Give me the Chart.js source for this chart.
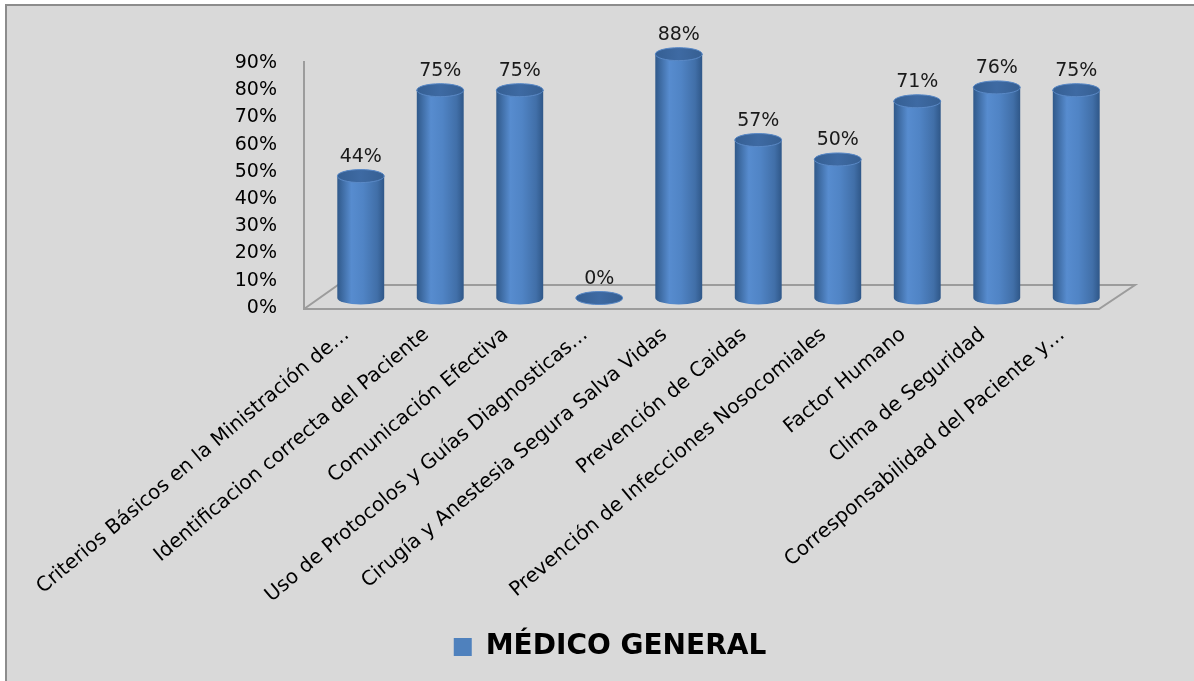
<!DOCTYPE html>
<html>
<head>
<meta charset="utf-8">
<script src="https://cdn.jsdelivr.net/npm/chart.js@4.4.0/dist/chart.umd.min.js"></script>
<style>
  html, body { margin: 0; padding: 0; background: #fff; overflow: hidden; width: 1194px; height: 681px; }
  #frame {
    position: absolute; left: 5px; top: 4px; width: 1220px; height: 700px;
    background: #d9d9d9; border-top: 2px solid #8c8c8c; border-left: 2px solid #8c8c8c;
  }
  #wrap { position: absolute; left: 0; top: 0; width: 1194px; height: 681px; }
</style>
</head>
<body>
<div id="frame"></div>
<div id="wrap"><canvas id="barChart"></canvas></div>
<script>
// datos
var categorias = [
  "Criterios Básicos en la Ministración de…",
  "Identificacion correcta del Paciente",
  "Comunicación Efectiva",
  "Uso de Protocolos y Guías Diagnosticas…",
  "Cirugía y Anestesia Segura Salva Vidas",
  "Prevención de Caidas",
  "Prevención de Infecciones Nosocomiales",
  "Factor Humano",
  "Clima de Seguridad",
  "Corresponsabilidad del Paciente y…"
];
var medicoGeneral = [44, 75, 75, 0, 88, 57, 50, 71, 76, 75];
var serieNombre = "MÉDICO GENERAL";
var ticksY = [0, 10, 20, 30, 40, 50, 60, 70, 80, 90];

var fuente = "'DejaVu Sans', sans-serif";

// piso y pared 3D
var piso3d = {
  id: "piso3d",
  beforeDatasetsDraw: function (chart) {
    var ctx = chart.ctx;
    var a = chart.chartArea;
    var y0 = chart.scales.y.getPixelForValue(0);
    var yTop = chart.scales.y.getPixelForValue(ticksY[ticksY.length - 1]);
    var dx = 17, dy = 11.5;
    ctx.save();
    ctx.strokeStyle = "#9c9c9c";
    ctx.lineWidth = 2;
    ctx.beginPath();
    ctx.moveTo(a.left - dx, yTop - 2);
    ctx.lineTo(a.left - dx, y0 + 1);
    ctx.lineTo(a.right - dx, y0 + 1);
    ctx.lineTo(a.right + dx + 2, y0 - 2 * dy);
    ctx.lineTo(a.left + dx, y0 - 2 * dy);
    ctx.lineTo(a.left - dx, y0 + 1);
    ctx.stroke();
    ctx.restore();
  }
};

// cilindros
var cilindros = {
  id: "cilindros",
  beforeDatasetDraw: function () {
    return false;
  },
  afterDatasetsDraw: function (chart) {
    var ctx = chart.ctx;
    var meta = chart.getDatasetMeta(0);
    ctx.save();
    meta.data.forEach(function (bar, i) {
      var p = bar.getProps(["x", "y", "base", "width"], true);
      var w = p.width, rx = w / 2, ry = 6.5;
      var l = p.x - rx, r = p.x + rx;
      var g = ctx.createLinearGradient(l, 0, r, 0);
      g.addColorStop(0, "#30598a");
      g.addColorStop(0.3, "#578ccf");
      g.addColorStop(0.55, "#5084c5");
      g.addColorStop(0.85, "#416fa8");
      g.addColorStop(1, "#2f5788");
      ctx.beginPath();
      ctx.moveTo(l, p.y);
      ctx.lineTo(l, p.base);
      ctx.ellipse(p.x, p.base, rx, ry, 0, Math.PI, 0, true);
      ctx.lineTo(r, p.y);
      ctx.ellipse(p.x, p.y, rx, ry, 0, 0, Math.PI, true);
      ctx.closePath();
      ctx.fillStyle = g;
      ctx.fill();
      // tapa
      var gt = ctx.createLinearGradient(l, 0, r, 0);
      gt.addColorStop(0, "#355f93");
      gt.addColorStop(0.5, "#3e6aa3");
      gt.addColorStop(1, "#365f92");
      ctx.beginPath();
      ctx.ellipse(p.x, p.y, rx, ry, 0, 0, Math.PI * 2);
      ctx.fillStyle = gt;
      ctx.fill();
      ctx.strokeStyle = "#5a89c6";
      ctx.lineWidth = 1;
      ctx.stroke();
      // etiqueta
      ctx.fillStyle = "#1a1a1a";
      ctx.font = "19px " + fuente;
      ctx.textAlign = "center";
      ctx.textBaseline = "middle";
      ctx.fillText(medicoGeneral[i] + "%", p.x, p.y - 19);
    });
    ctx.restore();
  }
};

document.addEventListener("DOMContentLoaded", function () {
  var ctx = document.getElementById("barChart").getContext("2d");
  var barChart = new Chart(ctx, {
    type: "bar",
    data: {
      labels: categorias,
      datasets: [
        {
          label: serieNombre,
          data: medicoGeneral,
          yAxisID: "y2",
          backgroundColor: "#4f81bd",
          borderWidth: 0,
          barPercentage: 0.59,
          categoryPercentage: 1,
          clip: false
        }
      ]
    },
    options: {
      responsive: true,
      maintainAspectRatio: false,
      animation: false,
      layout: { padding: { top: 63, left: 26, right: 0, bottom: 10 } },
      plugins: {
        tooltip: { enabled: false },
        legend: {
          position: "bottom",
          labels: {
            color: "#000",
            boxWidth: 18,
            boxHeight: 18,
            padding: 10,
            font: { family: fuente, size: 28, weight: "bold" }
          }
        }
      },
      scales: {
        x: {
          grid: { display: false, drawTicks: false },
          border: { display: false },
          ticks: {
            autoSkip: false,
            minRotation: 40,
            maxRotation: 40,
            padding: 15,
            labelOffset: -14,
            color: "#000",
            font: { family: fuente, size: 20 }
          },
          afterFit: function (s) { s.height = 315; }
        },
        y: {
          min: 0,
          max: 90,
          grid: { display: false, drawTicks: false },
          border: { display: false },
          ticks: {
            stepSize: 10,
            padding: 44,
            color: "#000",
            font: { family: fuente, size: 19 },
            callback: function (v) { return v + "%"; }
          },
          afterFit: function (s) { s.width = 295; }
        },
        y2: {
          position: "right",
          min: -3.6,
          max: 84.8,
          grid: { display: false, drawTicks: false },
          border: { display: false },
          ticks: { display: false },
          afterFit: function (s) { s.width = 78; }
        }
      }
    },
    plugins: [piso3d, cilindros]
  });
});
</script>
</body>
</html>
